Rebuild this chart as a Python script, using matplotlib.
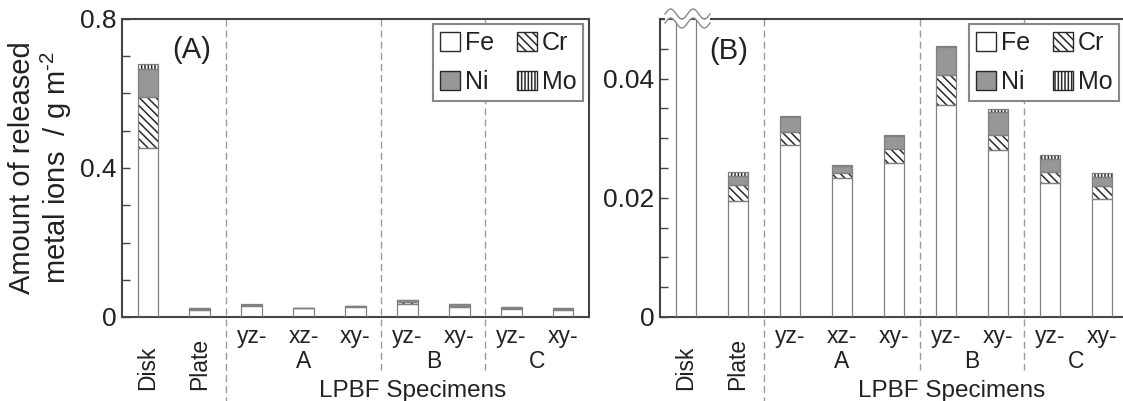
import matplotlib
matplotlib.use('Agg')
import matplotlib.pyplot as plt
import numpy as np
from matplotlib.patches import Patch, Polygon
from matplotlib.lines import Line2D
import matplotlib.transforms as mtrans

# ---------------- data ----------------
categories = ['Disk', 'Plate', 'yz-', 'xz-', 'xy-', 'yz-', 'xy-', 'yz-', 'xy-']
groups = ['A', 'B', 'C']
group_centers = [3, 5.5, 7.5]
separators = [1.5, 4.5, 6.5]
fe = [0.453, 0.0194, 0.0288, 0.0233, 0.0259, 0.0356, 0.0281, 0.0224, 0.0198]
cr = [0.138, 0.0027, 0.0022, 0.0009, 0.0023, 0.0050, 0.0024, 0.0019, 0.0021]
ni = [0.075, 0.0016, 0.0025, 0.0012, 0.0022, 0.0047, 0.0039, 0.0022, 0.0016]
mo = [0.012, 0.0006, 0.0002, 0.0001, 0.0002, 0.0002, 0.0005, 0.0007, 0.0007]
elements = ['Fe', 'Cr', 'Ni', 'Mo']

plt.rcParams['font.family'] = ['Liberation Sans', 'DejaVu Sans']
plt.rcParams['mathtext.fontset'] = 'custom'
plt.rcParams['mathtext.rm'] = 'Liberation Sans'
plt.rcParams['hatch.linewidth'] = 1.1

TXT = '#222222'
SPINE = '#444444'
EDGE = '#808080'
HATCH = '#2a2a2a'
NI_C = '#979797'

W, H = 1123, 401
fig = plt.figure(figsize=(W / 100, H / 100), dpi=100)


def px_rect(l, r, t, b):
    return [l / W, 1 - b / H, (r - l) / W, (b - t) / H]


axA = fig.add_axes(px_rect(122, 589, 19, 317))
axB = fig.add_axes(px_rect(660, 1128, 19, 317))

styles = {
    'Fe': dict(color='white', hatch=None),
    'Cr': dict(color='white', hatch='\\\\\\\\'),
    'Ni': dict(color=NI_C, hatch=None),
    'Mo': dict(color='white', hatch='|||||'),
}
series = {'Fe': fe, 'Cr': cr, 'Ni': ni, 'Mo': mo}
x = np.arange(len(categories))
bw = 0.4


def draw(ax, ymax, majors, minors, labels, panel, panel_xy, show_right):
    bottom = np.zeros(len(x))
    for el in elements:
        vals = np.array(series[el])
        st = styles[el]
        ax.bar(x, vals, bw, bottom=bottom, color=st['color'], hatch=st['hatch'],
               edgecolor=HATCH, linewidth=0, zorder=2)
        ax.bar(x, vals, bw, bottom=bottom, fill=False, edgecolor=EDGE,
               linewidth=0.9, zorder=3)
        bottom += vals
    ax.set_xlim(-0.5, 8.5)
    ax.set_ylim(0, ymax)
    ax.set_yticks(majors)
    ax.set_yticklabels(labels)
    ax.set_yticks(minors, minor=True)
    ax.tick_params(axis='y', which='both', direction='in', length=6, width=1,
                   color=SPINE, labelsize=19, pad=4, labelcolor=TXT)
    ax.set_xticks(x[2:])
    ax.set_xticklabels(categories[2:])
    ax.tick_params(axis='x', length=0, labelsize=16.5, pad=6, labelcolor=TXT)
    for sp in ['left', 'bottom', 'top', 'right']:
        ax.spines[sp].set_color(SPINE)
        ax.spines[sp].set_linewidth(1.5)
    ax.spines['right'].set_visible(show_right)
    bt = mtrans.blended_transform_factory(ax.transData, ax.transAxes)
    for i, s in enumerate(separators):
        ybot = -0.3 if i == 0 else (317 - 370) / 298
        ax.plot([s, s], [1, ybot], transform=bt, clip_on=False, color='#9a9a9a',
                lw=1, ls=(0, (5, 3)), zorder=1)
    ft = mtrans.blended_transform_factory(ax.transData, fig.transFigure)
    for i in range(2):
        ax.text(x[i], 1 - 390 / H, categories[i], rotation=90, ha='center',
                va='bottom', transform=ft, fontsize=16.5, color=TXT)
    for g, c in zip(groups, group_centers):
        ax.text(c, 1 - 368 / H, g, ha='center', va='baseline', transform=ft,
                fontsize=16.5, color=TXT)
    ax.text(5.1, 1 - 397 / H, 'LPBF Specimens', ha='center', va='baseline',
            transform=ft, fontsize=17.5, color=TXT)
    fig.text(panel_xy[0] / W, 1 - panel_xy[1] / H, panel, ha='center', va='center',
             fontsize=21, color=TXT)
    handles = [Patch(facecolor=styles[e]['color'], hatch=styles[e]['hatch'],
                     edgecolor=HATCH, linewidth=1) for e in ['Fe', 'Ni', 'Cr', 'Mo']]
    leg = ax.legend(handles, ['Fe', 'Ni', 'Cr', 'Mo'], ncol=2, loc='upper right',
                    bbox_to_anchor=(0, 0, 1, 1), fontsize=18, fancybox=False,
                    edgecolor='#888888', handlelength=0.8, handleheight=0.8,
                    handletextpad=0.2, columnspacing=0.9, labelspacing=0.62,
                    borderpad=0.27, borderaxespad=0, framealpha=1)
    leg.get_frame().set_linewidth(1.5)
    for t in leg.get_texts():
        t.set_color(TXT)
    return leg


legA = draw(axA, 0.8, [0, 0.4, 0.8], np.arange(0, 0.81, 0.1), ['0', '0.4', '0.8'],
            '(A)', (192, 50), True)
legB = draw(axB, 0.05, [0, 0.02, 0.04], np.arange(0, 0.0501, 0.005),
            ['0', '0.02', '0.04'], '(B)', (729, 51), False)

# position legends in pixel coordinates (right/top edge)
fig.canvas.draw()
for ax, (r, t) in [(axA, (583, 24)), (axB, (1119, 24))]:
    leg = ax.get_legend()
    inv = ax.transAxes.inverted()
    xr, yt = inv.transform((r, H - t))
    leg.set_bbox_to_anchor((xr, yt), transform=ax.transAxes)

# y label
fig.text(41 / W, 1 - 168 / H, 'Amount of released\nmetal ions  / g m$^{\\mathregular{\u2010}\\mathregular{2}}$',
         rotation=90, ha='center', va='center', fontsize=21, linespacing=1.1,
         multialignment='center', color=TXT)

# axis break symbol on panel B
xw = np.linspace(665, 710, 200)
yu = 14 - 5 * np.sin(2 * np.pi * (xw - 665) / 22.5)
yl = yu + 9
poly_pts = np.vstack([np.column_stack([xw, yu]), np.column_stack([xw[::-1], yl[::-1]])])
poly_pts = np.column_stack([poly_pts[:, 0] / W, 1 - poly_pts[:, 1] / H])
fig.add_artist(Polygon(poly_pts, closed=True, facecolor='white', edgecolor='none',
                       transform=fig.transFigure, zorder=10))
for yy in (yu, yl):
    fig.add_artist(Line2D(xw / W, 1 - yy / H, color='#888888', lw=1,
                          transform=fig.transFigure, zorder=11))

fig.savefig('out.png', dpi=100)
